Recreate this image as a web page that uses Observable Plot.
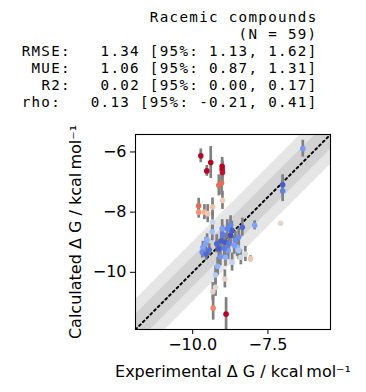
<!DOCTYPE html>
<html><head><meta charset="utf-8">
<script src="https://cdn.jsdelivr.net/npm/d3@7"></script>
<script src="https://cdn.jsdelivr.net/npm/@observablehq/plot@0.6"></script>
<style>body{margin:0;background:#fff} svg{display:block}</style>
</head><body><div id="chart"></div>
<script>
const experimental = [-9.73,-9.40,-9.53,-9.02,-9.02,-9.01,-9.13,-9.04,-9.01,-9.80,
  -9.80,-9.61,-9.50,-9.34,-9.34,-9.02,-8.74,-8.35,-7.94,-9.00,
  -8.74,-8.47,-8.58,-8.91,-9.52,-9.57,-9.66,-9.68,-9.13,-8.82,
  -8.52,-8.47,-8.25,-8.91,-8.08,-9.08,-8.69,-9.17,-9.24,-8.93,
  -9.24,-9.33,-9.32,-8.89,-6.34,-7.01,-7.01,-7.08,-9.35,-9.20,
  -8.62,-8.80,-9.45,-8.95,-8.70,-9.05,-8.40,-9.55,-8.85];
const calculated = [-6.13,-6.35,-6.63,-6.48,-6.58,-6.68,-7.11,-7.03,-7.61,-7.79,
  -8.00,-8.00,-8.05,-7.83,-8.33,-8.55,-8.42,-8.50,-8.44,-8.75,
  -8.77,-8.83,-8.94,-9.00,-8.92,-9.05,-9.17,-9.33,-9.22,-9.28,
  -9.17,-9.28,-9.39,-9.50,-9.55,-9.48,-9.66,-9.80,-10.09,-10.22,
  -10.50,-10.64,-11.19,-11.39,-5.89,-7.09,-7.30,-8.37,-8.65,-9.05,
  -9.10,-9.05,-9.25,-9.20,-8.60,-8.95,-9.50,-9.40,-8.55];
const calcError = [0.23,0.53,0.18,0.30,0.30,0.35,0.35,0.40,0.30,0.25,
  0.20,0.25,0.30,0.30,0.35,0.30,0.30,0.30,0.15,0.30,
  0.30,0.30,0.30,0.30,0.20,0.20,0.20,0.20,0.30,0.30,
  0.30,0.30,0.25,0.30,0.10,0.30,0.30,0.30,0.30,0.30,
  0.30,0.30,0.40,0.55,0.28,0.33,0.35,0.00,0.30,0.30,
  0.30,0.25,0.20,0.30,0.30,0.30,0.25,0.20,0.30];
const titleLines = ["Racemic compounds", "(N = 59)",
  "RMSE:   1.34 [95%: 1.13, 1.62]",
  "MUE:   1.06 [95%: 0.87, 1.31]",
  "R2:   0.02 [95%: 0.00, 0.17]",
  "rho:   0.13 [95%: -0.21, 0.41]"];
const xLabel = "Experimental \u0394 G / kcal\u2009mol\u207B\u00B9";
const yLabel = "Calculated \u0394 G / kcal\u2009mol\u207B\u00B9";
const xTicks = [-10, -7.5];
const yTicks = [-10, -8, -6];
const axisLimits = [-11.9, -5.42];
const bandWidths = [1.0, 0.5];
// matplotlib coolwarm, normalised by 4 RT = 2.372 kcal/mol
const coolwarm = ["#3b4cc0","#6282ea","#8db0fe","#b8d0f9","#dddddd","#f5c4ad","#f49a7b","#de604d","#b40426"];
const colorStops = coolwarm.map((c, i) => i / (coolwarm.length - 1) * 2.372);

const data = experimental.map((x, i) => ({x, y: calculated[i], err: calcError[i]}));
const mono = "DejaVu Sans Mono";

const chart = Plot.plot({
  width: 366, height: 392,
  marginLeft: 135, marginRight: 36, marginTop: 134, marginBottom: 63,
  style: {fontFamily: "DejaVu Sans", fontSize: "16px", color: "black", background: "white"},
  x: {domain: axisLimits, ticks: xTicks, tickFormat: d3.format(".1f"), label: null, tickSize: 5, tickPadding: 4},
  y: {domain: axisLimits, ticks: yTicks, tickFormat: d3.format("d"), label: null, tickSize: 5, tickPadding: 4},
  color: {type: "linear", domain: colorStops, range: coolwarm, interpolate: "rgb", clamp: true},
  marks: [
    ...bandWidths.map(w => Plot.areaY(axisLimits, {x: d => d, y1: d => d - w, y2: d => d + w, fill: "grey", fillOpacity: 0.2, clip: true})),
    Plot.line(axisLimits, {x: d => d, y: d => d, stroke: "black", strokeWidth: 2, strokeDasharray: "2,3.3", clip: true}),
    Plot.ruleX(data, {x: "x", y1: d => d.y - d.err, y2: d => d.y + d.err, stroke: "grey", strokeWidth: 2.7, clip: true}),
    Plot.dot(data, {x: "x", y: "y", r: 2.8, fill: d => Math.abs(d.x - d.y), stroke: null}),
    Plot.frame({stroke: "black", strokeWidth: 1.1}),
    ...titleLines.map((t, i) => Plot.text([t.replace(/ /g, "\u00A0")], {
      frameAnchor: "top-right", dx: -13, dy: -117 + i * 17, textAnchor: "end", lineAnchor: "middle",
      fontFamily: mono, fontSize: 14.2, fill: "black"})),
    Plot.text([yLabel], {frameAnchor: "left", dx: -60, rotate: -90, textAnchor: "middle", lineAnchor: "middle", fontSize: 16, fill: "black"}),
    Plot.text([xLabel], {frameAnchor: "bottom", dy: 42, textAnchor: "middle", lineAnchor: "middle", fontSize: 16, fill: "black"})
  ]
});
d3.select(chart).selectAll("g[font-family='DejaVu Sans Mono'] text").attr("letter-spacing", "1.32px");
document.getElementById("chart").appendChild(chart);
</script></body></html>
